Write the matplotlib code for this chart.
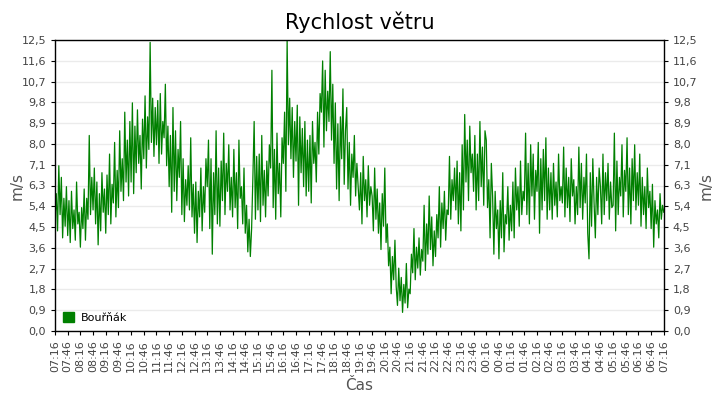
import numpy as np
import matplotlib.pyplot as plt
from matplotlib.patches import Patch

# wind speed, one value every 3 minutes from 07:16 (m/s)
speed = [
    4.8, 5.9, 4.3, 7.1, 5.0, 6.6, 4.0, 5.7, 4.5, 6.2,
    4.1, 5.6, 3.8, 6.0, 4.4, 5.2, 3.9, 6.4, 4.6, 5.1,
    3.6, 5.3, 4.4, 6.1, 3.9, 5.7, 4.8, 8.4, 5.0, 6.6,
    5.2, 7.0, 4.6, 6.4, 3.7, 5.9, 4.3, 6.8, 5.1, 6.1,
    4.2, 6.7, 5.0, 7.6, 4.6, 6.3, 5.5, 8.1, 4.9, 6.9,
    5.3, 8.6, 6.0, 7.4, 5.6, 9.4, 6.4, 8.2, 5.8, 9.0,
    6.4, 9.8, 5.9, 8.8, 6.8, 9.5, 7.2, 8.4, 6.1, 9.1,
    7.4, 10.1, 7.0, 9.2, 7.8, 12.4, 8.1, 10.0, 7.5, 9.6,
    8.0, 9.9, 7.2, 10.2, 7.6, 9.0, 8.3, 10.6, 7.1, 8.8,
    6.2, 8.4, 5.1, 9.6, 6.0, 8.6, 5.6, 7.8, 6.6, 9.0,
    5.0, 7.4, 4.7, 6.5, 5.4, 7.1, 5.2, 8.3, 4.9, 6.3,
    4.2, 6.4, 3.8, 6.0, 4.9, 7.0, 4.3, 6.2, 5.1, 7.4,
    6.2, 8.2, 4.4, 7.4, 3.3, 6.8, 5.0, 8.6, 4.6, 7.0,
    4.5, 7.3, 5.6, 8.5, 5.0, 7.2, 6.0, 8.0, 5.2, 6.6,
    4.9, 7.8, 5.3, 6.8, 4.4, 8.2, 5.7, 6.2, 4.6, 7.0,
    4.2, 5.4, 3.4, 4.8, 3.2, 4.4, 6.6, 9.0, 4.8, 7.5,
    5.2, 7.6, 4.7, 8.4, 5.4, 6.9, 4.9, 7.3, 5.8, 8.0,
    7.0, 11.2, 5.3, 7.8, 4.8, 8.5, 5.9, 7.2, 4.9, 8.3,
    7.2, 9.4, 6.0, 12.5, 8.0, 10.0, 7.4, 9.6, 6.6, 9.0,
    7.3, 9.7, 5.4, 9.2, 6.8, 8.7, 6.2, 9.0, 5.8, 8.2,
    6.0, 8.4, 5.5, 9.0, 7.2, 8.1, 6.4, 9.4, 7.6, 10.2,
    9.4, 11.6, 7.9, 11.2, 8.6, 10.3, 9.0, 12.0, 8.2, 10.6,
    7.2, 9.8, 6.1, 8.9, 5.6, 9.2, 7.4, 10.4, 6.3, 8.6,
    9.6, 6.1, 8.1, 5.4, 7.6, 6.6, 8.4, 5.8, 7.2, 6.2,
    5.2, 6.8, 4.6, 7.5, 5.6, 6.5, 4.9, 7.1, 5.4, 6.2,
    5.8, 4.3, 7.0, 4.8, 6.1, 4.2, 5.5, 3.5, 5.9, 4.5,
    7.0, 3.8, 4.6, 2.8, 3.6, 1.6, 3.2, 2.2, 3.9, 1.9,
    1.1, 2.7, 1.3, 2.3, 0.8, 2.0, 1.2, 2.9, 1.0, 1.8,
    1.6, 3.3, 2.5, 4.4, 2.2, 3.6, 2.7, 4.0, 2.4, 3.5,
    3.0, 5.4, 2.6, 4.6, 3.3, 5.8, 3.5, 4.9, 2.8, 4.3,
    3.2, 5.0, 4.0, 6.2, 3.6, 5.5, 4.4, 6.0, 3.9, 5.2,
    5.0, 7.5, 4.8, 6.5, 5.6, 7.0, 5.2, 7.3, 4.6, 6.8,
    4.3, 8.0, 5.2, 9.3, 6.4, 8.2, 5.6, 8.8, 6.8, 7.6,
    6.0, 8.4, 5.2, 7.6, 5.6, 9.0, 6.2, 7.9, 5.4, 8.6,
    8.2, 5.3, 6.5, 4.0, 7.2, 5.8, 3.3, 6.0, 4.4, 5.2,
    3.1, 5.6, 4.0, 6.8, 3.4, 5.0, 4.6, 6.2, 3.9, 5.4,
    4.3, 6.4, 4.0, 7.0, 5.2, 6.2, 4.5, 7.3, 5.0, 6.0,
    5.6, 8.5, 5.0, 7.2, 4.6, 8.0, 5.8, 7.6, 4.8, 6.9,
    6.0, 8.1, 4.2, 7.4, 5.2, 7.8, 5.6, 8.3, 4.8, 7.0,
    5.2, 6.8, 4.8, 7.2, 5.4, 6.4, 4.9, 7.6, 5.6, 6.2,
    5.5, 7.9, 4.9, 7.0, 5.3, 6.6, 4.7, 7.4, 5.8, 6.5,
    4.6, 6.2, 5.0, 7.9, 5.3, 7.2, 4.8, 6.6, 5.5, 7.6,
    4.2, 3.1, 6.8, 4.5, 7.4, 5.5, 4.0, 6.6, 5.0, 7.0,
    6.2, 4.6, 7.6, 5.0, 6.8, 5.6, 7.2, 4.8, 6.4, 5.3,
    5.4, 8.5, 4.3, 7.3, 5.0, 6.6, 5.8, 8.0, 4.9, 6.9,
    6.0, 8.3, 5.0, 7.0, 4.6, 7.4, 5.6, 8.0, 5.2, 6.8,
    5.4, 7.6, 4.5, 6.6, 5.0, 6.2, 4.4, 7.0, 5.3, 6.0,
    4.4, 6.3, 3.6, 5.6, 4.6, 5.2, 4.0, 5.9, 4.8, 5.4,
    5.1,
]
step_min = 3
start_min = 7 * 60 + 16

y_ticks = [0.0, 0.893, 1.786, 2.679, 3.571, 4.464, 5.357, 6.25,
           7.143, 8.036, 8.929, 9.821, 10.714, 11.607, 12.5]
y_labels = ["0,0", "0,9", "1,8", "2,7", "3,6", "4,5", "5,4", "6,3",
            "7,1", "8,0", "8,9", "9,8", "10,7", "11,6", "12,5"]

x_ticks = list(range(0, 24 * 60 + 1, 30))
x_labels = ["%02d:%02d" % (((start_min + t) // 60) % 24, (start_min + t) % 60) for t in x_ticks]

minutes = np.arange(len(speed)) * step_min

fig = plt.figure(figsize=(7.2, 4), dpi=100)
ax = fig.add_axes([0.0764, 0.1725, 0.8456, 0.7275])

ax.plot(minutes, speed, color="#008000", lw=0.9)

ax.set_xlim(0, 24 * 60)
ax.set_ylim(0, 12.5)
ax.set_yticks(y_ticks)
ax.set_yticklabels(y_labels)
ax.set_xticks(x_ticks)
ax.set_xticklabels(x_labels, rotation=90)
ax.grid(axis="y", color="#ebebeb", lw=1)
ax.set_axisbelow(True)

ax.tick_params(axis="both", labelsize=8, labelcolor="#444444", length=3, width=0.8)
ax.tick_params(axis="y", right=True, labelright=True)

for s in ax.spines.values():
    s.set_color("black")
    s.set_linewidth(1)

ax.set_title("Rychlost větru", fontsize=15, pad=8)
ax.set_xlabel("Čas", fontsize=11, color="#555555", labelpad=4)

# axis titles on both sides
fig.text(17 / 720, 0.536, "m/s", rotation=90, fontsize=11, color="#555555",
         ha="center", va="center")
fig.text(706 / 720, 0.536, "m/s", rotation=90, fontsize=11, color="#555555",
         ha="center", va="center")

ax.legend(handles=[Patch(color="#008000", label="Bouřňák")], loc="lower left",
          frameon=False, fontsize=8, handlelength=1.0, handleheight=1.0,
          borderaxespad=0.3, handletextpad=0.6)

fig.savefig("out.png", dpi=100)
